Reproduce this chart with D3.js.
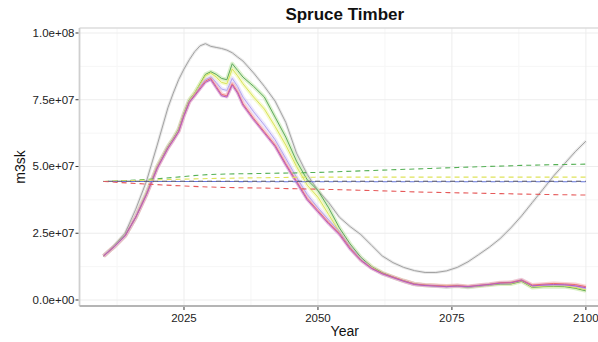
<!DOCTYPE html>
<html><head><meta charset="utf-8">
<script src="https://cdn.jsdelivr.net/npm/d3@7"></script>
<style>body{margin:0;background:#fff}svg{display:block}</style>
</head><body>
<svg id="chart" width="598" height="342"></svg>
<script>
const title = "Spruce Timber";
const xTitle = "Year";
const yTitle = "m3sk";
const years = [2010,2012,2014,2016,2018,2020,
  2022,2023,2024,2025,2026,2027,2028,2029,2030,2031,2032,2033,2034,2035,2036,
  2038,2040,2042,2044,2046,2048,2050,2052,2054,2056,2058,
  2060,2062,2064,2066,2068,2070,2072,2074,2076,2078,2080,2082,2084,2086,2088,2090,2092,2094,2096,2098,2100];
// values in millions of m3sk
const grayRef = [16.5,20.5,25,34,44.5,58,
  72,77.5,82.5,86.5,90,93,95.2,96,95,94.6,94.2,93.6,92.6,91,89.5,
  85,80,74.5,66.5,55,47,41,36.5,31,27.5,24.5,
  20.5,16.5,14,12.2,11,10.3,10.3,10.9,12.2,14.3,17,19.8,23,27,31.5,36.5,41.5,46.5,51,55.5,59.5];
const green = [16.5,20,24.2,31,40,50,
  57.5,60.5,64,70,75,77.5,81,84.5,85.5,84.5,83,82.5,88.5,86,83.5,
  80,76,68.5,61,52,45,41,34.5,27,21,16,
  12.5,10.2,8.6,7.2,6,5.5,5.3,5.0,5.2,4.8,5.2,5.6,6.0,6.0,7.0,4.7,5.0,5.1,5.0,4.4,3.4];
const yellow = [16.5,20,24,31,40,50,
  57.3,60.3,63.8,69.8,74.8,77.5,80.8,84,85,83.5,81.5,81,86.5,84,81,
  76,71.5,65,58,50,43,38.5,32,25.5,20,15.5,
  12.3,10,8.5,7.1,5.9,5.5,5.3,5.1,5.3,4.9,5.3,5.7,6.2,6.2,7.2,4.9,5.2,5.3,5.3,4.7,3.8];
const lavender = [16.5,20,24,31,39.8,49.8,
  57.2,60.2,63.5,69.5,74.5,77,80,82.5,83.5,81.5,79,78.5,83,80,76,
  70.5,65.5,60,53,46,39.5,34.5,30,25.5,20,15.5,
  12.1,9.9,8.5,7.1,5.9,5.5,5.2,5.0,5.3,4.9,5.4,5.8,6.4,6.5,7.6,5.2,5.5,5.6,5.6,5.2,4.3];
const red = [16.5,20,24,31,39.5,49.5,
  57,60,63.2,69.2,74.2,76.8,79.5,82,83,80,77,76.5,81,78,73.5,
  68,63,58,51,44.5,38,33.5,29,25,19.5,15,
  12,10,8.6,7.2,6,5.6,5.4,5.2,5.4,5.1,5.5,5.9,6.5,6.6,7.5,5.6,5.9,6.2,6.0,5.8,5.0];
const purple = [16.5,20,24,31,39.5,49.3,
  56.8,59.8,63,69,74,76.5,79,81.5,82.5,79.5,76.5,76,80.5,77.5,73,
  67.5,62.5,57.5,50.5,44,37.5,33,28.5,24.5,19,14.8,
  11.8,9.8,8.4,7.0,5.8,5.4,5.2,5.0,5.2,5.0,5.4,5.8,6.3,6.4,7.3,5.3,5.6,5.8,5.7,5.3,4.6];

const refYears = [2010,2020,2030,2040,2050,2060,2070,2080,2090,2100];
const refGreen  = [44.4,45.4,47.0,47.4,47.8,48.5,49.2,49.9,50.5,50.9];
const refYellow = [44.4,45.0,45.5,45.8,46.0,46.0,46.0,46.0,46.0,46.0];
const refBlue   = [44.4,44.4,44.4,44.3,44.3,44.3,44.3,44.3,44.3,44.3];
const refDark   = [44.5,44.5,44.5,44.5,44.5,44.5,44.5,44.5,44.5,44.5];
const refRed    = [44.4,43.2,42.3,41.9,41.5,41.0,40.4,40.0,39.6,39.3];

const xTicks = [2025,2050,2075,2100];
const xMinor = [2012.5,2037.5,2062.5,2087.5];
const yTicks = [0,25e6,50e6,75e6,100e6];
const yTickLabels = ["0.0e+00","2.5e+07","5.0e+07","7.5e+07","1.0e+08"];
const yMinor = [12.5e6,37.5e6,62.5e6,87.5e6];

const svg = d3.select("#chart");
const pl = 79.5, pr = 610, pt = 28, pb = 306;
const x = d3.scaleLinear().domain([2005.5, 2104.5]).range([pl, pr]);
const y = d3.scaleLinear().domain([-2.25e6, 1.0187e8]).range([pb, pt]);
const font = "'Liberation Sans', Arial, sans-serif";

svg.append("defs").append("clipPath").attr("id","clip")
  .append("rect").attr("x",pl).attr("y",pt).attr("width",pr-pl).attr("height",pb-pt);

const grid = svg.append("g");
xMinor.forEach(v => grid.append("line").attr("x1",x(v)).attr("x2",x(v)).attr("y1",pt).attr("y2",pb).attr("stroke","#f6f6f6").attr("stroke-width",1));
yMinor.forEach(v => grid.append("line").attr("y1",y(v)).attr("y2",y(v)).attr("x1",pl).attr("x2",pr).attr("stroke","#f6f6f6").attr("stroke-width",1));
xTicks.forEach(v => grid.append("line").attr("x1",x(v)).attr("x2",x(v)).attr("y1",pt).attr("y2",pb).attr("stroke","#ededed").attr("stroke-width",1));
yTicks.forEach(v => grid.append("line").attr("y1",y(v)).attr("y2",y(v)).attr("x1",pl).attr("x2",pr).attr("stroke","#ededed").attr("stroke-width",1));

svg.append("line").attr("x1",pl).attr("x2",pr).attr("y1",pt).attr("y2",pt).attr("stroke","#dddddd").attr("stroke-width",1.5);
svg.append("line").attr("x1",pl).attr("x2",pl).attr("y1",pt).attr("y2",pb).attr("stroke","#cfcfcf").attr("stroke-width",1.8);
svg.append("line").attr("x1",pl).attr("x2",pr).attr("y1",pb).attr("y2",pb).attr("stroke","#b5b5b5").attr("stroke-width",2);

const plot = svg.append("g").attr("clip-path","url(#clip)");
const line = d3.line().x(d => x(d[0])).y(d => y(d[1]*1e6)).curve(d3.curveLinear);

const series = [
  {vals: grayRef, line:"#a2a2a2", band:"#d4d4d4", w:1, bw:3},
  {vals: green, line:"#5ea85e", band:"#b7e39c", w:1, bw:4},
  {vals: yellow, line:"#d9e35c", band:"#eef59c", w:1, bw:4},
  {vals: lavender, line:"#b2a4ee", band:"#d8cffc", w:1, bw:4},
  {vals: red, line:"#ec7070", band:"#f6a6a6", w:1, bw:4},
  {vals: purple, line:"#b45cc0", band:"#dba6e2", w:1, bw:3}
];
series.forEach(s => {
  const pts = years.map((yr,i) => [yr, s.vals[i]]);
  plot.append("path").attr("d", line(pts)).attr("fill","none")
    .attr("stroke", s.band).attr("stroke-width", s.bw).attr("stroke-opacity",0.5).attr("stroke-linejoin","round");
});
series.forEach(s => {
  const pts = years.map((yr,i) => [yr, s.vals[i]]);
  plot.append("path").attr("d", line(pts)).attr("fill","none")
    .attr("stroke", s.line).attr("stroke-width", s.w).attr("stroke-linejoin","round");
});

const refs = [
  {vals: refGreen, c:"#55b055"},
  {vals: refYellow, c:"#e0e35a"},
  {vals: refBlue, c:"#6677dd"},
  {vals: refDark, c:"#44445e"},
  {vals: refRed, c:"#e65a5a"}
];
refs.forEach((r,k) => {
  const pts = refYears.map((yr,i) => [yr, r.vals[i]]);
  plot.append("path").attr("d", d3.line().x(d=>x(d[0])).y(d=>y(d[1]*1e6)).curve(d3.curveMonotoneX)(pts))
    .attr("fill","none").attr("stroke", r.c).attr("stroke-width",1.1)
    .attr("stroke-dasharray", "5,4").attr("stroke-dashoffset", k===3 ? 4.5 : 0);
});

const ax = svg.append("g");
xTicks.forEach(v => {
  ax.append("line").attr("x1",x(v)).attr("x2",x(v)).attr("y1",pb+1).attr("y2",pb+4).attr("stroke","#333").attr("stroke-width",1);
  ax.append("text").attr("x",x(v)).attr("y",pb+16).attr("text-anchor","middle")
    .attr("font-family",font).attr("font-size","11.5px").attr("fill","#222").text(v);
});
yTicks.forEach((v,i) => {
  ax.append("line").attr("x1",pl-4).attr("x2",pl-1).attr("y1",y(v)).attr("y2",y(v)).attr("stroke","#333").attr("stroke-width",1);
  ax.append("text").attr("x",pl-5).attr("y",y(v)+4).attr("text-anchor","end")
    .attr("font-family",font).attr("font-size","11.5px").attr("fill","#222").text(yTickLabels[i]);
});

svg.append("text").attr("x",(pl+pr)/2).attr("y",336).attr("text-anchor","middle")
  .attr("font-family",font).attr("font-size","14px").attr("fill","#111").text(xTitle);
svg.append("text").attr("transform",`translate(25,${(pt+pb)/2}) rotate(-90)`).attr("text-anchor","middle")
  .attr("font-family",font).attr("font-size","14px").attr("fill","#111").text(yTitle);
svg.append("text").attr("x",(pl+pr)/2).attr("y",20).attr("text-anchor","middle")
  .attr("font-family",font).attr("font-size","17px").attr("font-weight","bold").attr("fill","#111").text(title);
</script>
</body></html>
